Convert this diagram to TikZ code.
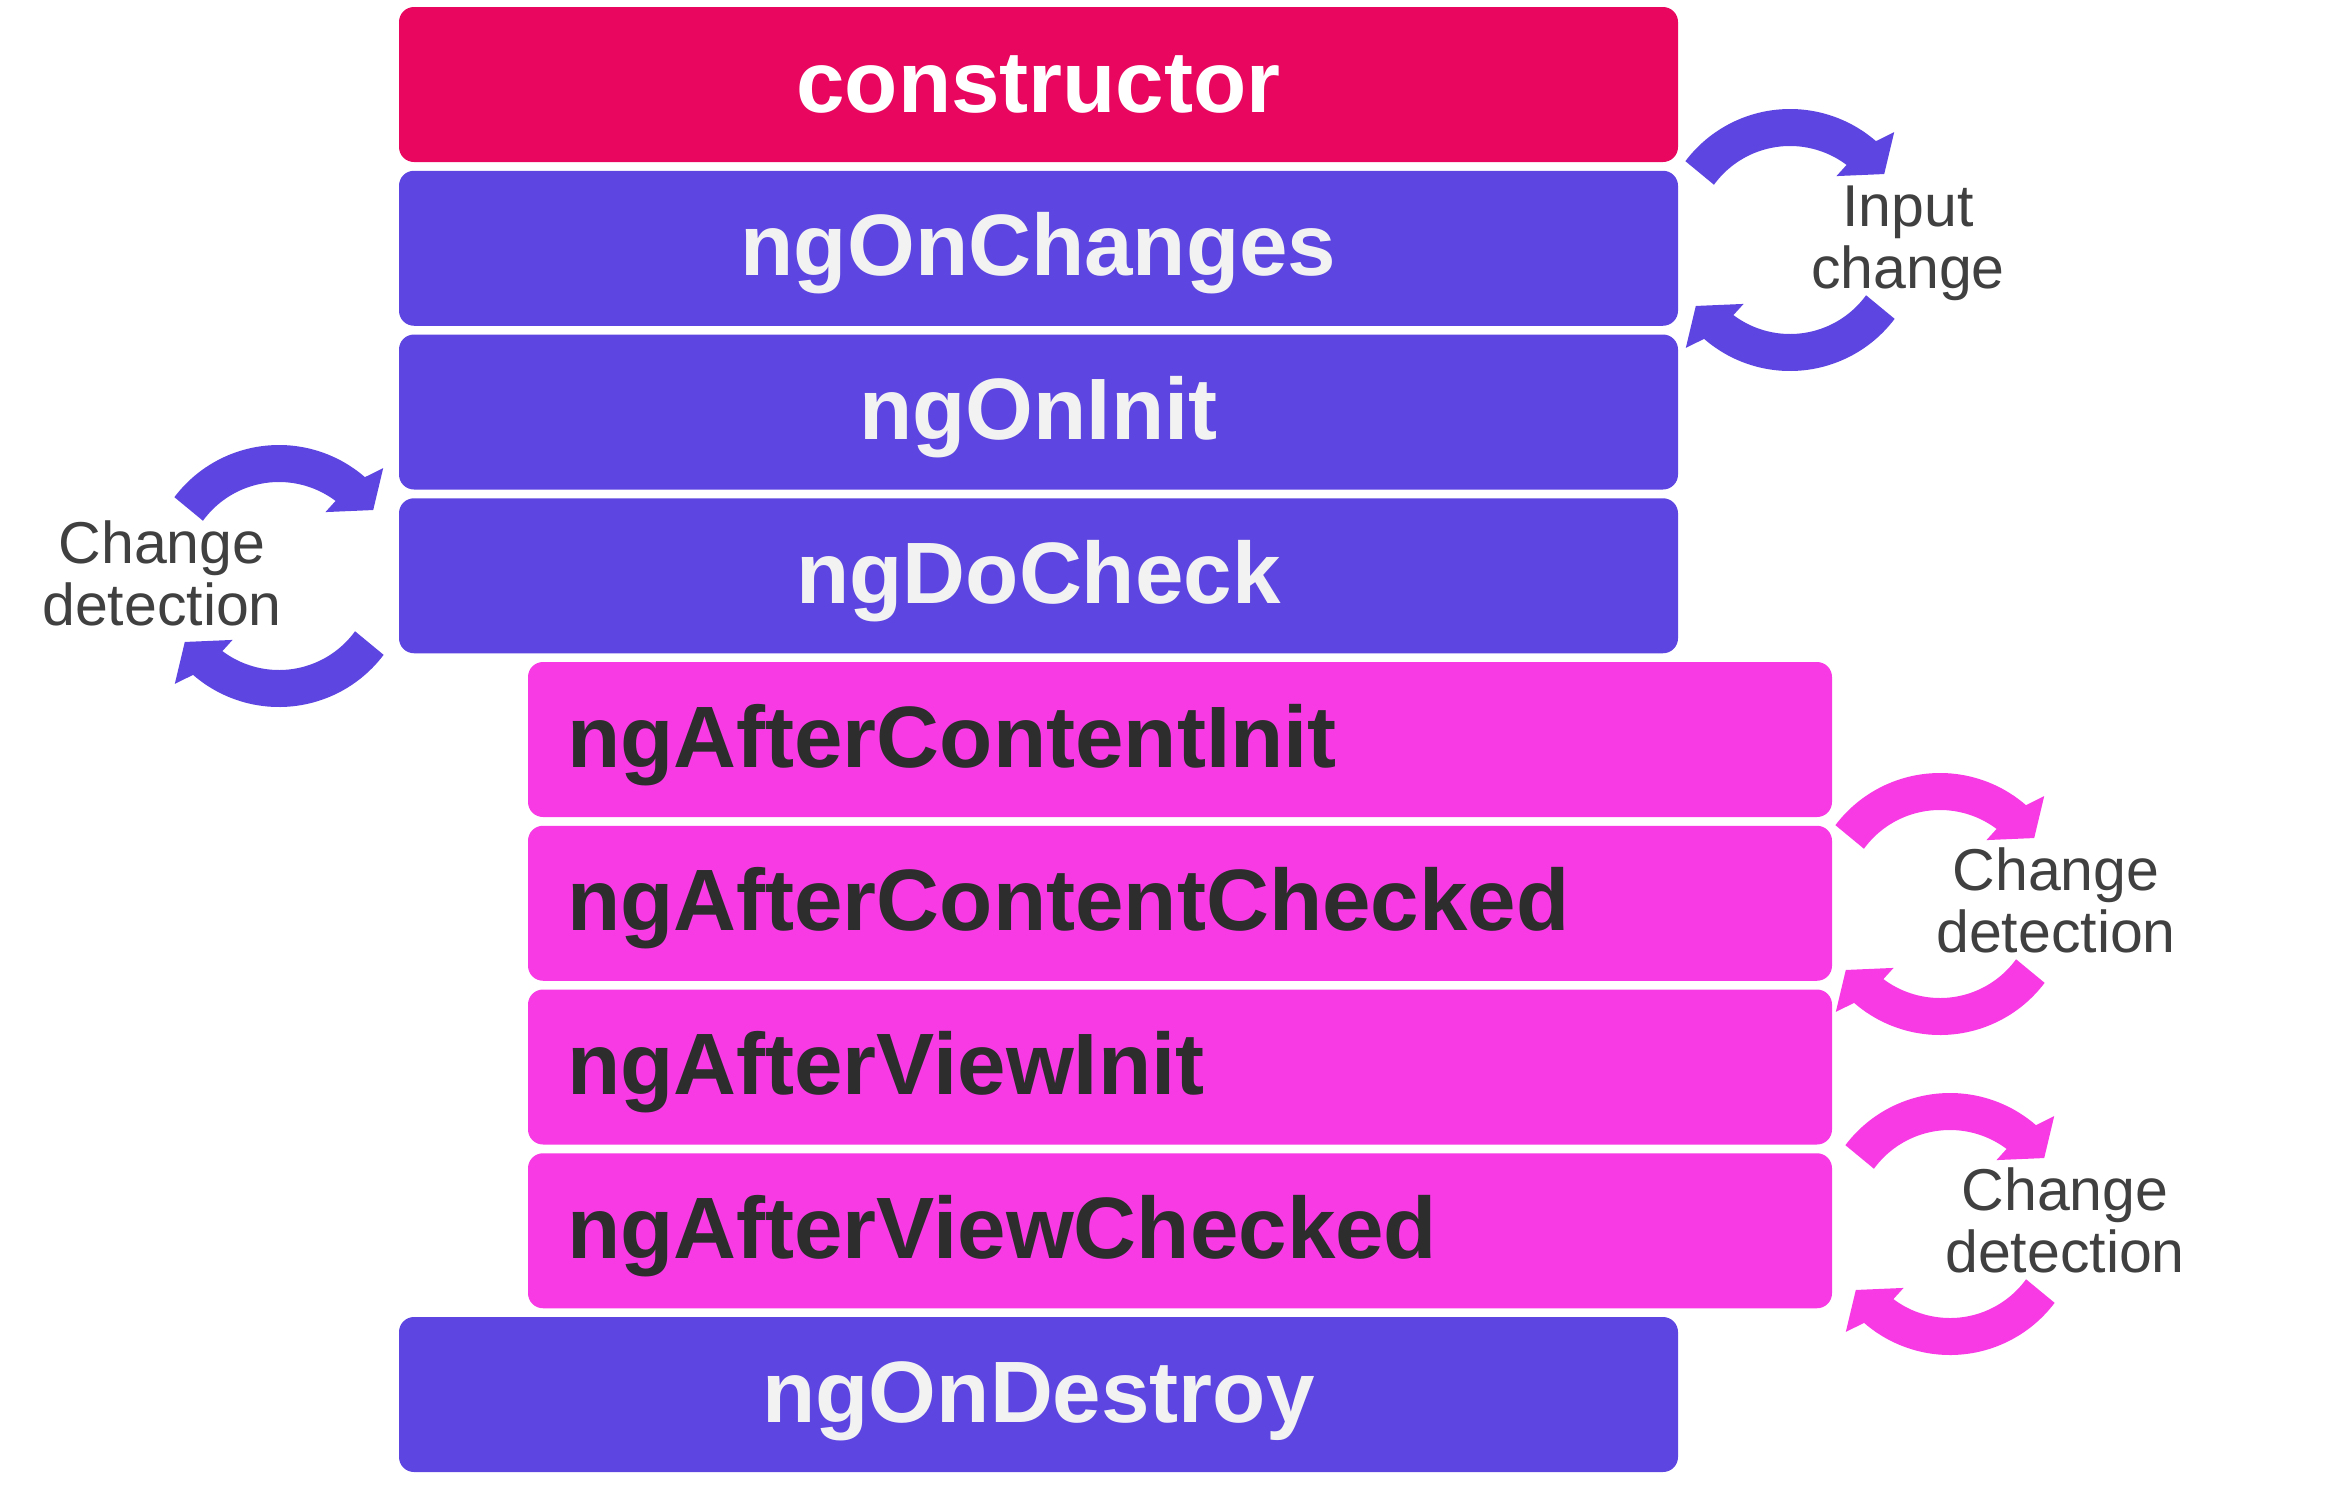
\documentclass[tikz,border=0pt]{standalone}
\usepackage{fontspec}
\setmainfont{Liberation Sans}
\usepackage{tikz}

\definecolor{angred}{HTML}{E8065E}
\definecolor{angpurple}{HTML}{5C45E1}
\definecolor{angpink}{HTML}{F73AE4}
\definecolor{hooklight}{HTML}{F2F2F2}
\definecolor{hookdark}{HTML}{2D2D2D}
\definecolor{notegray}{HTML}{404040}

\begin{document}
\begin{tikzpicture}[
        hook/.style={
            rectangle,
            rounded corners=0.15cm,
            minimum height=1.55cm,
            inner ysep=0pt,
            inner xsep=0.43cm,
            text height=0.62cm,
            text depth=0.07cm,
            font=\fontsize{24.8pt}{28pt}\selectfont\bfseries
        },
        outerhook/.style={
            hook,
            fill=angpurple,
            text=hooklight,
            text width=11.93cm,
            align=center
        },
        innerhook/.style={
            hook,
            inner xsep=0.39cm,
            fill=angpink,
            text=hookdark,
            text width=12.26cm,
            align=left
        },
        note/.style={
            align=center,
            text=notegray,
            font=\fontsize{16.8pt}{17.6pt}\selectfont
        },
        cyclearrows/.pic={
            \foreach \rot in {0,180}
                \fill (143+\rot:1.31) arc[start angle=143+\rot, end angle=49+\rot, radius=1.31]
                    -- (46+\rot:1.50) -- (35+\rot:1.15) -- (54+\rot:0.79) -- (53+\rot:0.94)
                    arc[start angle=53+\rot, end angle=144+\rot, radius=0.94] -- cycle;
        }
    ]

        \useasboundingbox (0,0) rectangle (23.26,-14.95);

        \node[outerhook, fill=angred, text=white] (ctor) at (10.385,-0.845) {constructor};
        \node[outerhook] (changes) at (10.385,-2.4825) {ngOnChanges};
        \node[outerhook] (init) at (10.385,-4.12) {ngOnInit};
        \node[outerhook] (docheck) at (10.385,-5.7575) {ngDoCheck};

        \node[innerhook] (cinit) at (11.80,-7.395) {ngAfterContentInit};
        \node[innerhook] (cchecked) at (11.80,-9.0325) {ngAfterContentChecked};
        \node[innerhook] (vinit) at (11.80,-10.67) {ngAfterViewInit};
        \node[innerhook] (vchecked) at (11.80,-12.3075) {ngAfterViewChecked};

        \node[outerhook] (destroy) at (10.385,-13.945) {ngOnDestroy};

        \pic[fill=angpurple] (inputcyc) at (17.90,-2.40) {cyclearrows};
        \pic[fill=angpurple] (checkcyc) at (2.79,-5.76) {cyclearrows};
        \pic[fill=angpink] (contentcyc) at (19.40,-9.04) {cyclearrows};
        \pic[fill=angpink] (viewcyc) at (19.50,-12.24) {cyclearrows};

        \node[note] (inputnote) at (19.08,-2.43) {Input\\change};
        \node[note] (checknote) at (1.62,-5.73) {Change\\detection};
        \node[note] (contentnote) at (20.56,-9.00) {Change\\detection};
        \node[note] (viewnote) at (20.65,-12.20) {Change\\detection};

    \end{tikzpicture}
\end{document}
